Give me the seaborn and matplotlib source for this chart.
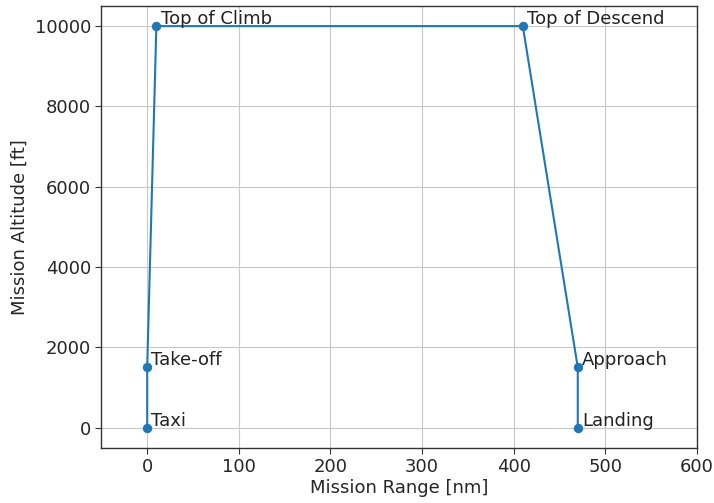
import matplotlib
matplotlib.use("Agg")
import matplotlib.pyplot as plt
import seaborn as sns
import pandas as pd

phases = ["Taxi", "Take-off", "Top of Climb", "Top of Descend", "Approach", "Landing"]
range_nm = [0, 0, 10, 410, 470, 470]
altitude_ft = [0, 1500, 10000, 10000, 1500, 0]

df = pd.DataFrame({"range": range_nm, "alt": altitude_ft, "phase": phases})

sns.set_style("whitegrid", {
    "axes.edgecolor": "#333333",
    "grid.color": "#c8c8c8",
    "xtick.bottom": True,
    "ytick.left": True,
})
plt.rcParams["font.family"] = ["DejaVu Sans"]

fig, ax = plt.subplots(figsize=(7.14, 5.03), dpi=100)
sns.lineplot(data=df, x="range", y="alt", sort=False, estimator=None,
             marker="o", color="#1f77b4", markeredgecolor="#1f77b4",
             markersize=6, linewidth=1.5, ax=ax)

for x, y, name in zip(range_nm, altitude_ft, phases):
    ax.annotate(name, (x, y), xytext=(3, -1.5), textcoords="offset points",
                fontsize=13, color="#222222", va="bottom", ha="left")

ax.set_xlim(-50, 600)
ax.set_ylim(-500, 10500)
ax.set_xticks([0, 100, 200, 300, 400, 500, 600])
ax.set_yticks([0, 2000, 4000, 6000, 8000, 10000])
ax.tick_params(labelsize=13, length=4, color="#333333")
ax.set_xlabel("Mission Range [nm]", fontsize=13, labelpad=2)
ax.set_ylabel("Mission Altitude [ft]", fontsize=13)
for s in ax.spines.values():
    s.set_linewidth(1.0)

fig.subplots_adjust(left=0.142, right=0.976, top=0.988, bottom=0.11)
fig.savefig("out.png", dpi=100)
